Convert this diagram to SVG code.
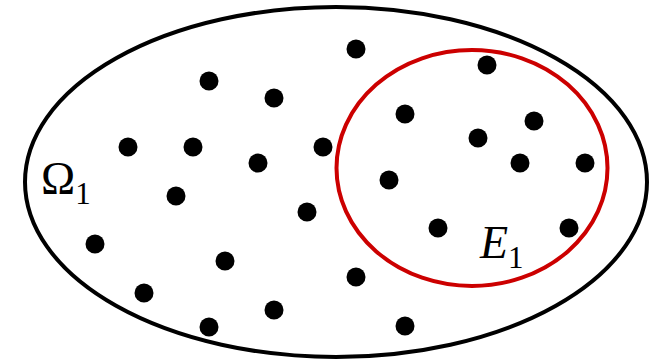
<svg xmlns="http://www.w3.org/2000/svg" width="652" height="360" viewBox="0 0 652 360">
<style>
.dot{fill:#000}
.lbl{font-family:"Liberation Serif","Times New Roman",serif;font-size:46px;fill:#000}
.sub{font-size:31px}
</style>
<rect width="652" height="360" fill="#fff"/>
<g id="omega">
<ellipse cx="336" cy="182" rx="311" ry="175" fill="none" stroke="#000" stroke-width="4"/>
<text class="lbl" x="41" y="194">Ω<tspan class="sub" dy="10">1</tspan></text>
</g>
<g id="event">
<ellipse cx="472" cy="168" rx="135.5" ry="118" fill="none" stroke="#CC0000" stroke-width="4"/>
<text class="lbl" x="480" y="258"><tspan font-style="italic">E</tspan><tspan class="sub" dy="10">1</tspan></text>
</g>
<g id="points">
<circle class="dot" cx="209" cy="81" r="9.5"/>
<circle class="dot" cx="274" cy="98" r="9.5"/>
<circle class="dot" cx="128" cy="147" r="9.5"/>
<circle class="dot" cx="193" cy="147" r="9.5"/>
<circle class="dot" cx="258" cy="163" r="9.5"/>
<circle class="dot" cx="323" cy="147" r="9.5"/>
<circle class="dot" cx="356" cy="49" r="9.5"/>
<circle class="dot" cx="487" cy="65" r="9.5"/>
<circle class="dot" cx="405" cy="114" r="9.5"/>
<circle class="dot" cx="534" cy="121" r="9.5"/>
<circle class="dot" cx="478" cy="138" r="9.5"/>
<circle class="dot" cx="520" cy="163" r="9.5"/>
<circle class="dot" cx="585" cy="163" r="9.5"/>
<circle class="dot" cx="389" cy="180" r="9.5"/>
<circle class="dot" cx="176" cy="196" r="9.5"/>
<circle class="dot" cx="307" cy="212" r="9.5"/>
<circle class="dot" cx="95" cy="244" r="9.5"/>
<circle class="dot" cx="225" cy="261" r="9.5"/>
<circle class="dot" cx="144" cy="293" r="9.5"/>
<circle class="dot" cx="209" cy="327" r="9.5"/>
<circle class="dot" cx="274" cy="310" r="9.5"/>
<circle class="dot" cx="438" cy="228" r="9.5"/>
<circle class="dot" cx="569" cy="228" r="9.5"/>
<circle class="dot" cx="356" cy="277" r="9.5"/>
<circle class="dot" cx="405" cy="326" r="9.5"/>
</g>
</svg>
